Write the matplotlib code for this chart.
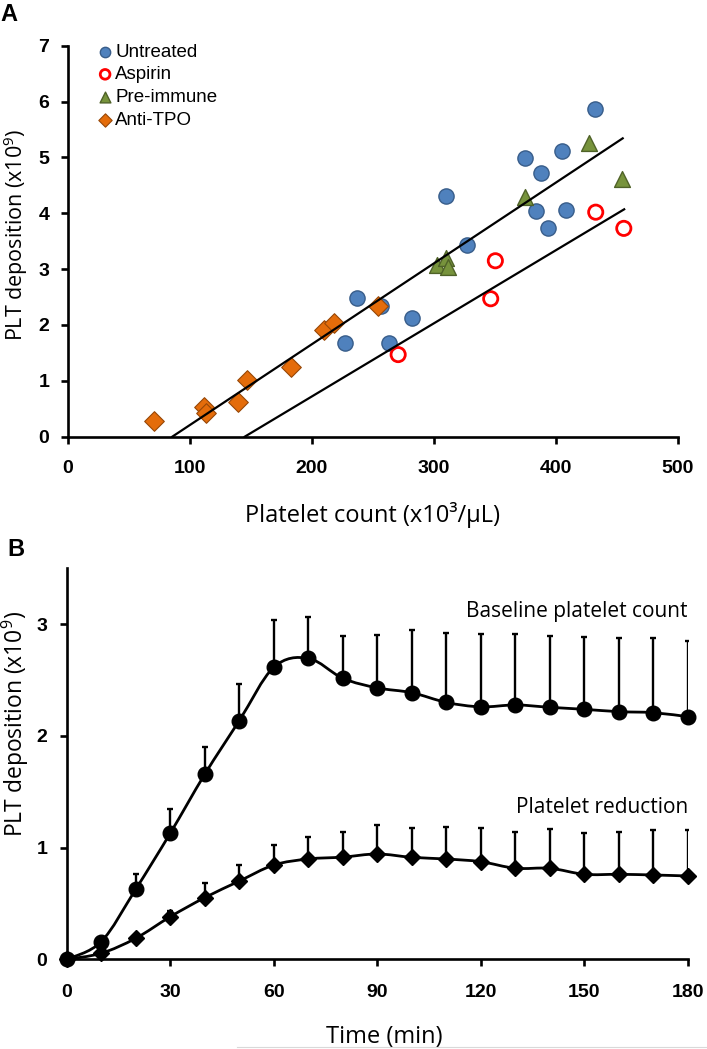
import numpy as np
import matplotlib
matplotlib.use('Agg')
import matplotlib.pyplot as plt
from matplotlib.path import Path
from matplotlib.patches import PathPatch
from matplotlib.lines import Line2D
from matplotlib.font_manager import FontProperties

# ---------------- Panel A data ----------------
untreated_x = [432, 374.7, 404.7, 387.8, 309.9, 383.7, 408, 393.8, 326.9, 236.7, 256.4, 281.8, 227.1, 263.2]
untreated_y = [5.87, 4.99, 5.11, 4.73, 4.31, 4.04, 4.06, 3.74, 3.44, 2.49, 2.34, 2.12, 1.67, 1.67]
aspirin_x = [270.8, 346.6, 350.4, 432.6, 455.6]
aspirin_y = [1.47, 2.47, 3.15, 4.02, 3.73]
preimmune_x = [302.3, 310, 311.8, 374.7, 427.4, 454.5]
preimmune_y = [3.07, 3.20, 3.03, 4.29, 5.26, 4.61]
antitpo_x = [70.5, 111.8, 113.7, 139.9, 147, 182.8, 209.9, 218, 253.9]
antitpo_y = [0.29, 0.54, 0.42, 0.63, 1.02, 1.24, 1.91, 2.03, 2.34]

# trend lines: slope, intercept, x range
fit_upper = (0.01448, -1.242, 85.8, 454.7)
fit_lower = (0.0131, -1.901, 145.1, 455.9)

# ---------------- Panel B data ----------------
time_min = [0, 10, 20, 30, 40, 50, 60, 70, 80, 90, 100, 110, 120, 130, 140, 150, 160, 170, 180]
baseline = [0, 0.158, 0.627, 1.128, 1.656, 2.136, 2.614, 2.695, 2.516, 2.43, 2.387, 2.30, 2.26,
            2.277, 2.256, 2.238, 2.217, 2.208, 2.172]
baseline_top = [0, 0.16, 0.76, 1.343, 1.90, 2.465, 3.04, 3.06, 2.89, 2.90, 2.95, 2.92, 2.91,
                2.91, 2.894, 2.888, 2.874, 2.874, 2.853]
reduction = [0, 0.054, 0.188, 0.381, 0.552, 0.70, 0.844, 0.898, 0.915, 0.943, 0.913, 0.898, 0.874,
             0.815, 0.815, 0.761, 0.761, 0.755, 0.746]
reduction_top = [0, 0.054, 0.188, 0.43, 0.68, 0.844, 1.023, 1.098, 1.137, 1.202, 1.178, 1.187, 1.178,
                 1.137, 1.167, 1.128, 1.137, 1.158, 1.158]

plt.rcParams['mathtext.fontset'] = 'custom'
plt.rcParams['mathtext.rm'] = 'Open Sans'
plt.rcParams['mathtext.it'] = 'Open Sans:italic'

tick_fp = FontProperties(family='Liberation Sans', weight='bold', size=14)
spine_w = 1.9


def style_axes(ax):
    for s in ['top', 'right']:
        ax.spines[s].set_visible(False)
    for s in ['left', 'bottom']:
        ax.spines[s].set_linewidth(spine_w)
    ax.tick_params(direction='out', length=5, width=spine_w)
    for lab in ax.get_xticklabels() + ax.get_yticklabels():
        lab.set_fontproperties(tick_fp)


def smooth_path(x, y):
    # Catmull-Rom style bezier through the data points (Excel "smoothed line")
    pts = np.column_stack([x, y]).astype(float)
    n = len(pts)
    verts = [pts[0]]
    codes = [Path.MOVETO]
    for i in range(n - 1):
        p0 = pts[i - 1] if i > 0 else pts[i]
        p1 = pts[i]
        p2 = pts[i + 1]
        p3 = pts[i + 2] if i + 2 < n else pts[i + 1]
        verts += [p1 + (p2 - p0) / 6.0, p2 - (p3 - p1) / 6.0, p2]
        codes += [Path.CURVE4] * 3
    return Path(verts, codes)


fig = plt.figure(figsize=(7.07, 10.49), dpi=100)

# ---------------- Panel A ----------------
axA = fig.add_axes([0.0955, 0.5837, 0.959 - 0.0955, 0.9564 - 0.5837])
axA.scatter(untreated_x, untreated_y, s=120, c='#4F81BD', edgecolors='#385D8A', linewidths=1.0,
            label='Untreated', zorder=3)
axA.scatter(aspirin_x, aspirin_y, s=105, facecolors='none', edgecolors='#FF0000', linewidths=2.0,
            label='Aspirin', zorder=3)
axA.scatter(preimmune_x, preimmune_y, s=130, c='#77933C', marker='^', edgecolors='#4F6228',
            linewidths=1.0, label='Pre-immune', zorder=3)
axA.scatter(antitpo_x, antitpo_y, s=100, c='#E46C0A', marker='D', edgecolors='#984807',
            linewidths=0.8, label='Anti-TPO', zorder=3)

for slope, icpt, x0, x1 in [fit_upper, fit_lower]:
    xs = np.array([x0, x1])
    axA.plot(xs, slope * xs + icpt, color='black', lw=1.6, zorder=4)

axA.set_xlim(0, 500)
axA.set_ylim(0, 7)
axA.set_xticks([0, 100, 200, 300, 400, 500])
axA.set_yticks([0, 1, 2, 3, 4, 5, 6, 7])
style_axes(axA)
axA.tick_params(axis='x', pad=12)
axA.tick_params(axis='y', pad=8)
axA.set_xlabel('Platelet count (x10³/µL)', labelpad=18, family='Open Sans', size=17)
axA.set_ylabel('PLT deposition (x10$^{9}$)', family='Open Sans', size=15.5)
axA.yaxis.set_label_coords(-0.062, 0.516)

axA.legend(loc='upper left', bbox_to_anchor=(0.037, 1.03), frameon=False,
           prop=dict(family='Liberation Sans', size=13.5), handlelength=0.6,
           handletextpad=0.25, labelspacing=0.3, borderpad=0, scatterpoints=1,
           markerscale=0.68)

fig.text(0.0, 0.997, 'A', ha='left', va='top', family='Liberation Sans', weight='bold', size=17)

# ---------------- Panel B ----------------
axB = fig.add_axes([0.0943, 0.0855, 0.973 - 0.0943, 0.4582 - 0.0855])
tm = np.array(time_min)
for vals, tops, mk, ms in [(baseline, baseline_top, 'o', 10.5), (reduction, reduction_top, 'D', 8.5)]:
    vals = np.array(vals)
    upper = np.array(tops) - vals
    axB.errorbar(tm, vals, yerr=[np.zeros_like(upper), upper], fmt='none', ecolor='black',
                 elinewidth=1.7, capsize=2, capthick=1.7, zorder=2)
    axB.add_patch(PathPatch(smooth_path(tm, vals), fill=False, edgecolor='black', lw=2.0, zorder=3))
    axB.plot(tm, vals, linestyle='none', marker=mk, ms=ms, color='black', zorder=4, clip_on=False)

axB.text(180, 3.11, 'Baseline platelet count', ha='right', va='center', family='Open Sans', size=15)
axB.text(180, 1.36, 'Platelet reduction', ha='right', va='center', family='Open Sans', size=15)

axB.set_xlim(0, 180)
axB.set_ylim(0, 3.5)
axB.set_xticks(np.arange(0, 181, 30))
axB.set_yticks([0, 1, 2, 3])
style_axes(axB)
axB.tick_params(axis='x', pad=13)
axB.tick_params(axis='y', pad=9)
axB.set_xlabel('Time (min)', labelpad=17, family='Open Sans', size=17)
axB.xaxis.label.set_x(0.512)
axB.set_ylabel('PLT deposition (x10$^{9}$)', family='Open Sans', size=16.5)
axB.yaxis.set_label_coords(-0.058, 0.602)

fig.text(0.01, 0.487, 'B', ha='left', va='top', family='Liberation Sans', weight='bold', size=17)

# faint grey border line along the bottom edge of the original figure
fig.add_artist(Line2D([237 / 707, 1.0], [0.0015, 0.0015], transform=fig.transFigure,
                      color='#d9d9d9', lw=0.8))

fig.savefig('out.png', dpi=100)
